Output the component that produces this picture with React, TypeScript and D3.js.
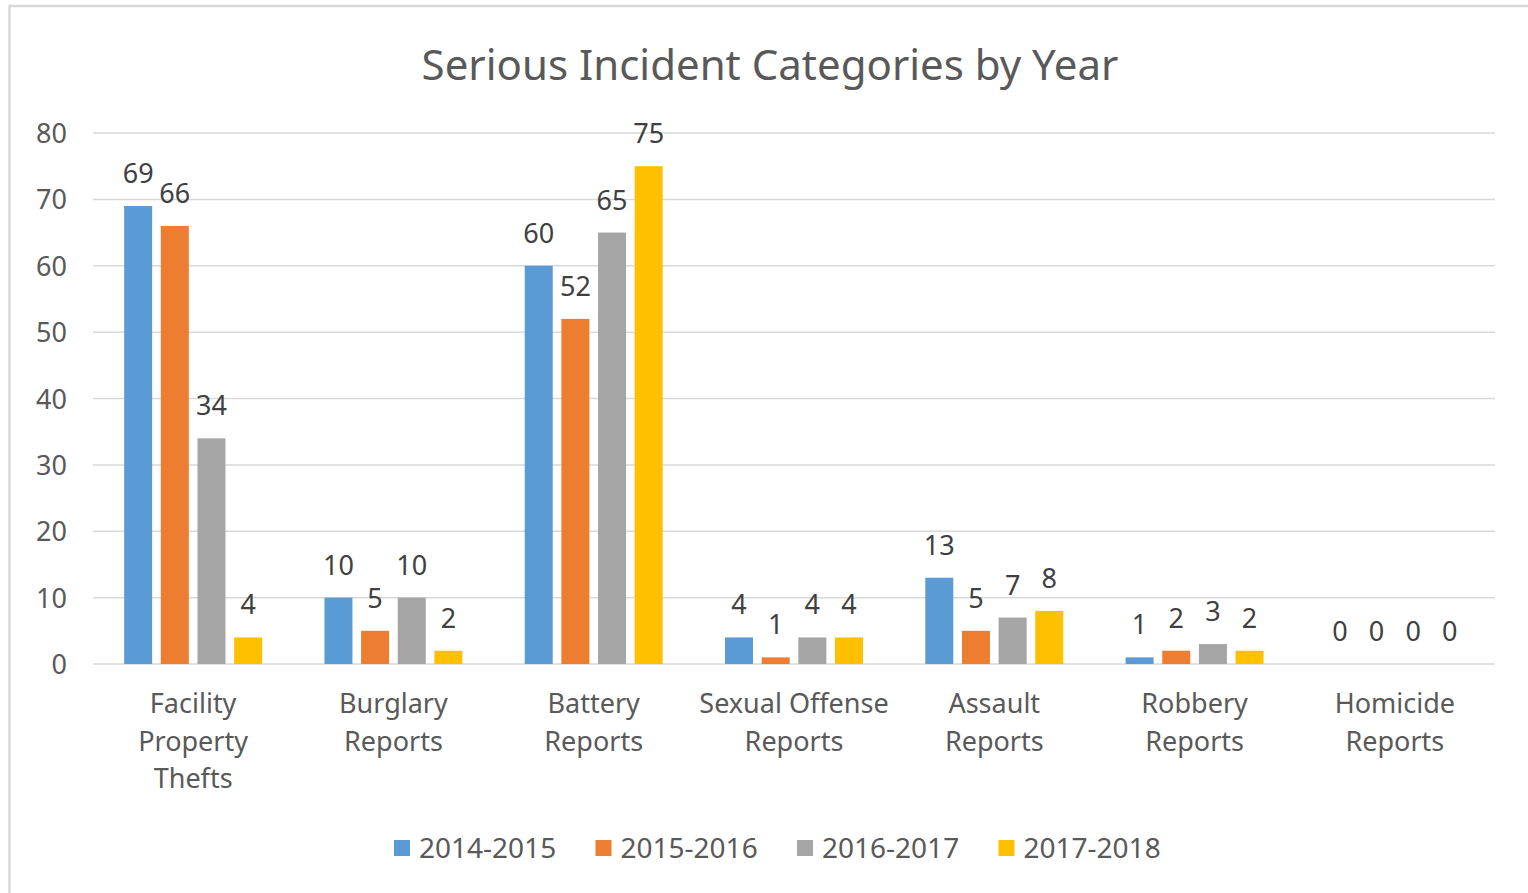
import React, { useRef, useEffect } from 'react';
import * as d3 from 'd3';

// chart data
const categories = [
  'Facility Property Thefts',
  'Burglary Reports',
  'Battery Reports',
  'Sexual Offense Reports',
  'Assault Reports',
  'Robbery Reports',
  'Homicide Reports',
];
const categoryLines = [
  ['Facility', 'Property', 'Thefts'],
  ['Burglary', 'Reports'],
  ['Battery', 'Reports'],
  ['Sexual Offense', 'Reports'],
  ['Assault', 'Reports'],
  ['Robbery', 'Reports'],
  ['Homicide', 'Reports'],
];
const seriesNames = ['2014-2015', '2015-2016', '2016-2017', '2017-2018'];
const values2014 = [69, 10, 60, 4, 13, 1, 0];
const values2015 = [66, 5, 52, 1, 5, 2, 0];
const values2016 = [34, 10, 65, 4, 7, 3, 0];
const values2017 = [4, 2, 75, 4, 8, 2, 0];
const yTicks = [0, 10, 20, 30, 40, 50, 60, 70, 80];
const colors = ['#5b9bd5', '#ed7d31', '#a5a5a5', '#ffc000'];

const allSeries = [values2014, values2015, values2016, values2017];

const App = () => {
  const svgRef = useRef<SVGSVGElement>(null);

  useEffect(() => {
    const width = 1528;
    const height = 893;
    const font = "'Noto Sans', sans-serif";

    const svg = d3.select(svgRef.current)
      .attr('width', width)
      .attr('height', height);
    svg.selectAll('*').remove();

    svg.append('rect').attr('width', width).attr('height', height).attr('fill', '#fff');

    // chart frame (right and bottom run off the picture)
    svg.append('rect')
      .attr('x', 9.5).attr('y', 6)
      .attr('width', 1600).attr('height', 1000)
      .attr('fill', 'none')
      .attr('stroke', '#d9d9d9')
      .attr('stroke-width', 2.5);

    const x = d3.scaleBand().domain(categories).range([93, 1495]);
    const xInner = d3.scaleBand()
      .domain(seriesNames)
      .range([0, x.bandwidth()])
      .paddingInner(0.236)
      .paddingOuter(0.85);
    const y = d3.scaleLinear().domain([0, 80]).range([664, 133]);

    // title
    svg.append('text')
      .attr('x', 770)
      .attr('y', 80)
      .attr('text-anchor', 'middle')
      .style('font-family', font)
      .style('font-size', '42px')
      .attr('fill', '#595959')
      .text('Serious Incident Categories by Year');

    // gridlines
    svg.append('g')
      .selectAll('line')
      .data(yTicks)
      .enter().append('line')
      .attr('x1', 93).attr('x2', 1495)
      .attr('y1', d => y(d)).attr('y2', d => y(d))
      .attr('stroke', '#d9d9d9')
      .attr('stroke-width', 1.5);

    // y tick labels
    svg.append('g')
      .selectAll('text')
      .data(yTicks)
      .enter().append('text')
      .attr('x', 67)
      .attr('y', d => y(d) + 10)
      .attr('text-anchor', 'end')
      .style('font-family', font)
      .style('font-size', '27px')
      .attr('fill', '#595959')
      .text(d => d);

    // bars + labels
    allSeries.forEach((vals, si) => {
      const g = svg.append('g');
      g.selectAll('rect')
        .data(vals)
        .enter().append('rect')
        .attr('x', (d, i) => (x(categories[i]) as number) + (xInner(seriesNames[si]) as number))
        .attr('y', d => y(d))
        .attr('width', xInner.bandwidth())
        .attr('height', d => y(0) - y(d))
        .attr('fill', colors[si]);

      g.selectAll('text')
        .data(vals)
        .enter().append('text')
        .attr('x', (d, i) => (x(categories[i]) as number) + (xInner(seriesNames[si]) as number) + xInner.bandwidth() / 2)
        .attr('y', d => y(d) - 23)
        .attr('text-anchor', 'middle')
        .style('font-family', font)
        .style('font-size', '27px')
        .attr('fill', '#404040')
        .text(d => d);
    });

    // category labels
    const cat = svg.append('g')
      .selectAll('text')
      .data(categories)
      .enter().append('text')
      .attr('x', d => (x(d) as number) + x.bandwidth() / 2)
      .attr('y', 713)
      .attr('text-anchor', 'middle')
      .style('font-family', font)
      .style('font-size', '27px')
      .attr('fill', '#595959');
    cat.selectAll('tspan')
      .data((d, i) => categoryLines[i])
      .enter().append('tspan')
      .attr('x', function () {
        return (this.parentNode as SVGTextElement).getAttribute('x');
      })
      .attr('dy', (d, i) => (i === 0 ? 0 : 37.5))
      .text(d => d);

    // legend
    const legend = svg.append('g');
    seriesNames.forEach((name, i) => {
      const lx = 394 + i * 201.5;
      legend.append('rect')
        .attr('x', lx).attr('y', 840)
        .attr('width', 16).attr('height', 16)
        .attr('fill', colors[i]);
      legend.append('text')
        .attr('x', lx + 25)
        .attr('y', 858)
        .style('font-family', font)
        .style('font-size', '28px')
        .attr('fill', '#595959')
        .text(name);
    });
  }, []);

  return (
    <svg ref={svgRef} style={{ position: 'absolute', left: 0, top: 0, display: 'block' }}></svg>
  );
};

export default App;
